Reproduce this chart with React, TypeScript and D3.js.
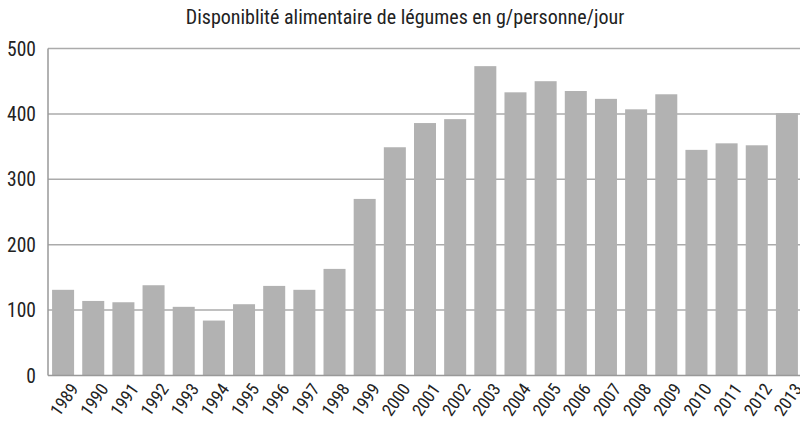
import React from "react";
import * as d3 from "d3";

const years = ["1989","1990","1991","1992","1993","1994","1995","1996","1997","1998","1999","2000","2001","2002","2003","2004","2005","2006","2007","2008","2009","2010","2011","2012","2013"];
const values = [131,114,112,138,105,84,109,137,131,163,270,349,386,392,473,433,450,435,423,407,430,345,355,352,401];
const yTicks = [0,100,200,300,400,500];
const title = "Disponiblité alimentaire de légumes en g/personne/jour";

const W = 800, H = 424;
const left = 48, right = 802, top = 48.5, bottom = 375.5;
const font = "'Liberation Sans Narrow', 'Arial Narrow', 'Roboto Condensed', 'Liberation Sans', sans-serif";

export default function App() {
  const x = d3.scaleBand<string>().domain(years).range([left, right]).paddingInner(0.27).paddingOuter(0.135);
  const y = d3.scaleLinear().domain([0, 500]).range([bottom, top]);
  return (
    <svg width={W} height={H} style={{ position: "absolute", left: 0, top: 0, background: "#fff" }}>
      <text x={405} y={24} textAnchor="middle" fontFamily={font} fontSize={20} fill="#222">{title}</text>
      {yTicks.map(t => (
        <g key={t}>
          {t > 0 && <line x1={left} x2={W} y1={y(t)} y2={y(t)} stroke="#ababab" strokeWidth={1.5} />}
          <text x={36} y={y(t) + 7} textAnchor="end" fontFamily={font} fontSize={19.5} fill="#222">{t}</text>
        </g>
      ))}
      {values.map((v, i) => (
        <rect key={years[i]} x={x(years[i])} y={y(v)} width={x.bandwidth()} height={y(0) - y(v)} fill="#b2b2b2" />
      ))}
      <line x1={left} x2={left} y1={top} y2={bottom} stroke="#999" strokeWidth={1.5} />
      <line x1={left} x2={W} y1={bottom} y2={bottom} stroke="#999" strokeWidth={1.5} />
      {years.map(yr => {
        const cx = (x(yr) as number) + x.bandwidth() / 2 + 11;
        const cy = bottom + 10;
        return (
          <text key={yr} transform={`translate(${cx},${cy}) rotate(-55)`} textAnchor="end" dy="0.35em" fontFamily={font} fontSize={17.5} fill="#222">{yr}</text>
        );
      })}
    </svg>
  );
}
